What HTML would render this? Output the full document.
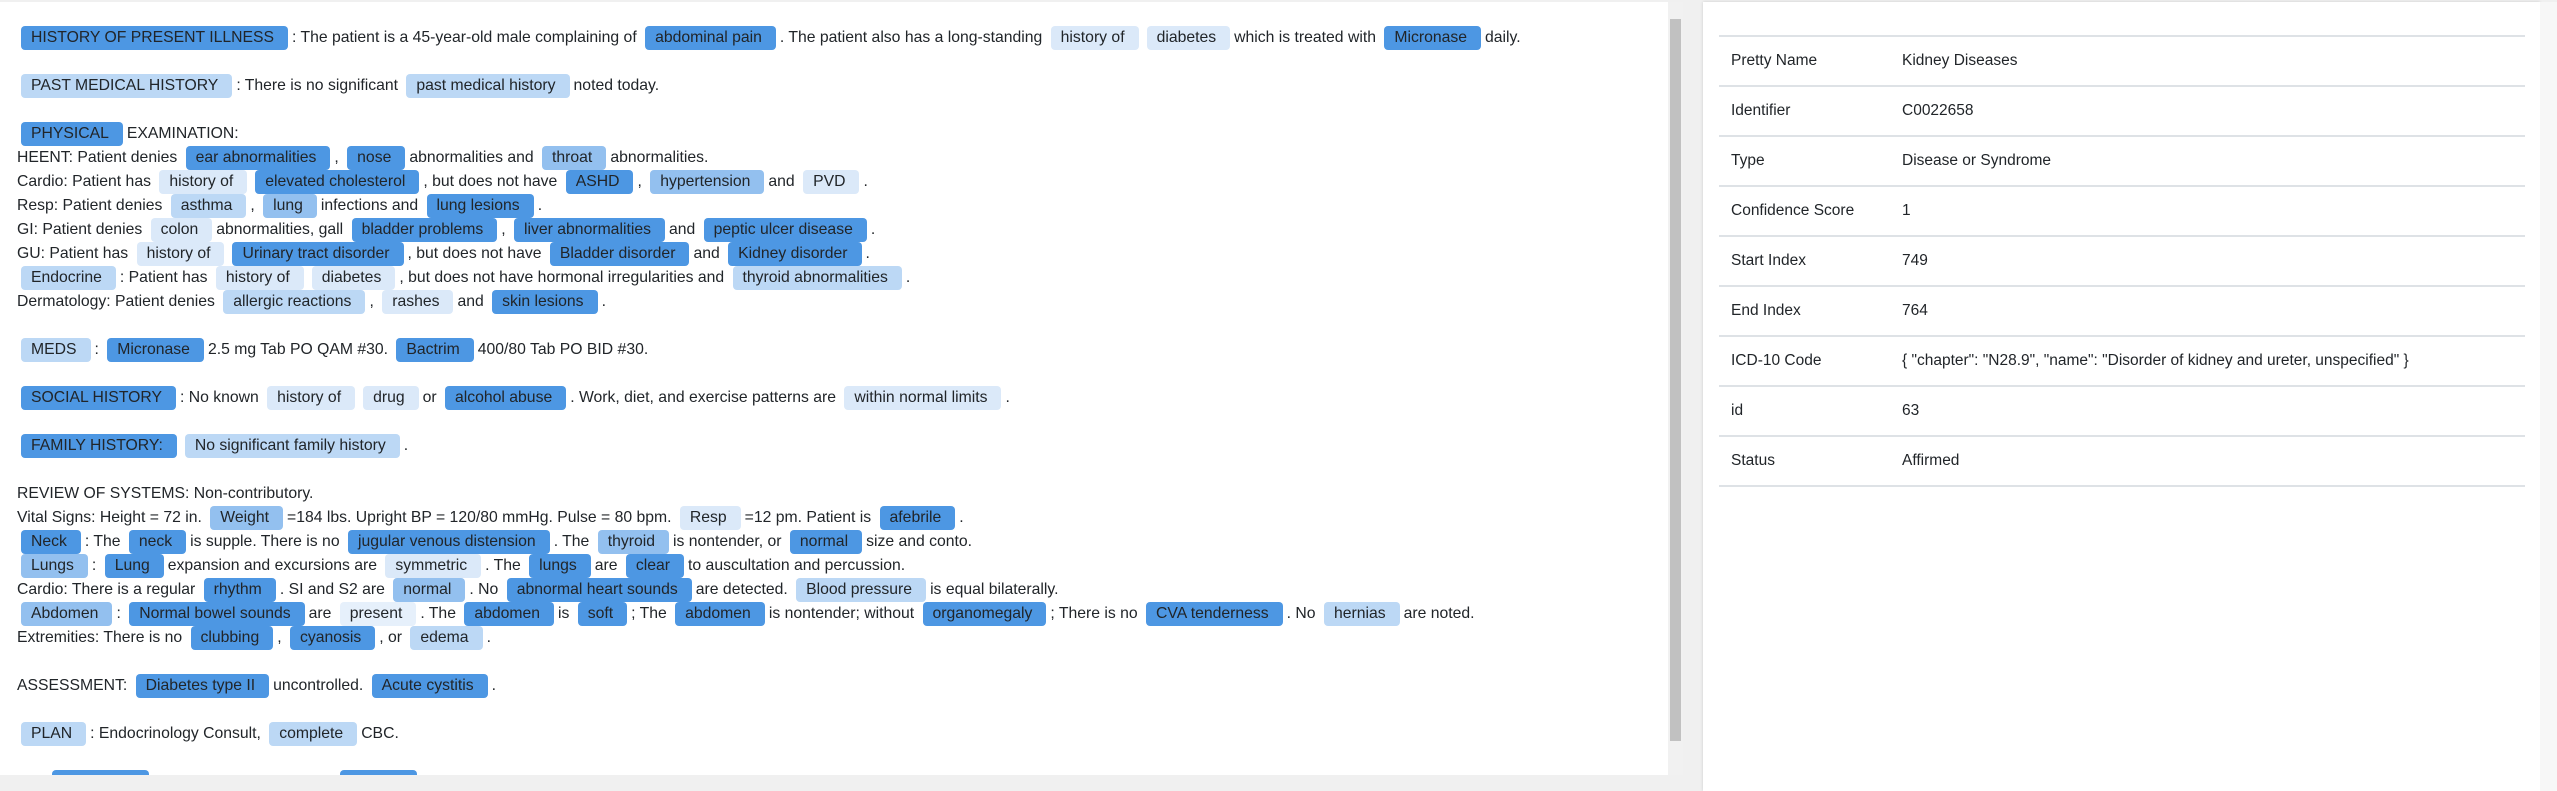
<!DOCTYPE html>
<html><head><meta charset="utf-8"><style>
body{margin:0;width:2557px;height:791px;overflow:hidden;background:#f0f0f0;font-family:"Liberation Sans",sans-serif;color:#212529;position:relative}
#left{position:absolute;left:0;top:2px;width:1668px;height:773px;background:#fff;overflow:hidden}
#vs{position:absolute;left:1668px;top:2px;width:15px;height:773px;background:#f1f1f1}
#vs .th{position:absolute;left:2px;top:17px;width:11px;height:722px;background:#c1c1c1}
#hs{position:absolute;left:0;top:775px;width:1683px;height:16px;background:#f0f0f0}
#txt{position:absolute;left:17px;top:24px;font-size:15.75px;white-space:nowrap}
.ln{height:24px;line-height:24px}
.t{display:inline-block;height:24px;line-height:24px;padding:0 14px 0 10px;border-radius:4px;margin:0 4px}
.d{background:#4d97e3}.m{background:#93c0ef}.l{background:#bcd8f5}.x{background:#dbe9f9}
#right{position:absolute;left:1703px;top:2px;width:837px;height:789px;background:#fff;box-shadow:0 0 3px rgba(0,0,0,.15)}
#rs{position:absolute;left:2540px;top:2px;width:17px;height:789px;background:#f7f7f7}
table{position:absolute;left:16px;top:33px;width:806px;border-collapse:collapse;font-size:15.5px}
td{height:48px;border-top:2px solid #dee2e6;padding:0 12px;vertical-align:middle}
td:first-child{width:147px}
tr:last-child td{border-bottom:2px solid #dee2e6}
</style></head><body>
<div id="left"><div id="txt">
<div class="ln"><span class="t d" style="margin-left:4px">HISTORY OF PRESENT ILLNESS</span>: The patient is a 45-year-old male complaining of <span class="t d">abdominal pain</span>. The patient also has a long-standing <span class="t x">history of</span><span class="t x">diabetes</span>which is treated with <span class="t d">Micronase</span>daily.</div>
<div class="ln"></div>
<div class="ln"><span class="t l">PAST MEDICAL HISTORY</span>: There is no significant <span class="t l">past medical history</span>noted today.</div>
<div class="ln"></div>
<div class="ln"><span class="t d">PHYSICAL</span>EXAMINATION:</div>
<div class="ln">HEENT: Patient denies <span class="t d">ear abnormalities</span>, <span class="t d">nose</span>abnormalities and <span class="t m">throat</span>abnormalities.</div>
<div class="ln">Cardio: Patient has <span class="t x">history of</span><span class="t d">elevated cholesterol</span>, but does not have <span class="t d">ASHD</span>, <span class="t m">hypertension</span>and <span class="t x">PVD</span>.</div>
<div class="ln">Resp: Patient denies <span class="t l">asthma</span>, <span class="t m">lung</span>infections and <span class="t d">lung lesions</span>.</div>
<div class="ln">GI: Patient denies <span class="t x">colon</span>abnormalities, gall <span class="t d">bladder problems</span>, <span class="t d">liver abnormalities</span>and <span class="t d">peptic ulcer disease</span>.</div>
<div class="ln">GU: Patient has <span class="t x">history of</span><span class="t d">Urinary tract disorder</span>, but does not have <span class="t d">Bladder disorder</span>and <span class="t d">Kidney disorder</span>.</div>
<div class="ln"><span class="t l">Endocrine</span>: Patient has <span class="t x">history of</span><span class="t x">diabetes</span>, but does not have hormonal irregularities and <span class="t l">thyroid abnormalities</span>.</div>
<div class="ln">Dermatology: Patient denies <span class="t l">allergic reactions</span>, <span class="t x">rashes</span>and <span class="t d">skin lesions</span>.</div>
<div class="ln"></div>
<div class="ln"><span class="t l">MEDS</span>: <span class="t d">Micronase</span>2.5 mg Tab PO QAM #30. <span class="t d">Bactrim</span>400/80 Tab PO BID #30.</div>
<div class="ln"></div>
<div class="ln"><span class="t d">SOCIAL HISTORY</span>: No known <span class="t x">history of</span><span class="t x">drug</span>or <span class="t d">alcohol abuse</span>. Work, diet, and exercise patterns are <span class="t x">within normal limits</span>.</div>
<div class="ln"></div>
<div class="ln"><span class="t d">FAMILY HISTORY:</span><span class="t l">No significant family history</span>.</div>
<div class="ln"></div>
<div class="ln">REVIEW OF SYSTEMS: Non-contributory.</div>
<div class="ln">Vital Signs: Height = 72 in. <span class="t m">Weight</span>=184 lbs. Upright BP = 120/80 mmHg. Pulse = 80 bpm. <span class="t x">Resp</span>=12 pm. Patient is <span class="t d">afebrile</span>.</div>
<div class="ln"><span class="t d">Neck</span>: The <span class="t d">neck</span>is supple. There is no <span class="t d">jugular venous distension</span>. The <span class="t m">thyroid</span>is nontender, or <span class="t d">normal</span>size and conto.</div>
<div class="ln"><span class="t m">Lungs</span>: <span class="t d">Lung</span>expansion and excursions are <span class="t x">symmetric</span>. The <span class="t d">lungs</span>are <span class="t d">clear</span>to auscultation and percussion.</div>
<div class="ln">Cardio: There is a regular <span class="t d">rhythm</span>. SI and S2 are <span class="t m">normal</span>. No <span class="t d">abnormal heart sounds</span>are detected. <span class="t l">Blood pressure</span>is equal bilaterally.</div>
<div class="ln"><span class="t m">Abdomen</span>: <span class="t d">Normal bowel sounds</span>are <span class="t x" style="background:#e6f0fb">present</span>. The <span class="t d">abdomen</span>is <span class="t d">soft</span>; The <span class="t d">abdomen</span>is nontender; without <span class="t d">organomegaly</span>; There is no <span class="t d">CVA tenderness</span>. No <span class="t l">hernias</span>are noted.</div>
<div class="ln">Extremities: There is no <span class="t d">clubbing</span>, <span class="t d">cyanosis</span>, or <span class="t l">edema</span>.</div>
<div class="ln"></div>
<div class="ln">ASSESSMENT: <span class="t d">Diabetes type II</span>uncontrolled. <span class="t d">Acute cystitis</span>.</div>
<div class="ln"></div>
<div class="ln"><span class="t l">PLAN</span>: Endocrinology Consult, <span class="t l">complete</span>CBC.</div>
<div class="ln"></div>
<div class="ln" style="position:relative"><span class="t d" style="position:absolute;left:31px;width:97px;padding:0"></span><span class="t d" style="position:absolute;left:319px;width:77px;padding:0"></span></div>
</div></div>
<div id="vs"><div class="th"></div></div>
<div id="hs"></div>
<div id="right"><table>
<tr><td>Pretty Name</td><td>Kidney Diseases</td></tr>
<tr><td>Identifier</td><td>C0022658</td></tr>
<tr><td>Type</td><td>Disease or Syndrome</td></tr>
<tr><td>Confidence Score</td><td>1</td></tr>
<tr><td>Start Index</td><td>749</td></tr>
<tr><td>End Index</td><td>764</td></tr>
<tr><td>ICD-10 Code</td><td>{ "chapter": "N28.9", "name": "Disorder of kidney and ureter, unspecified" }</td></tr>
<tr><td>id</td><td>63</td></tr>
<tr><td>Status</td><td>Affirmed</td></tr>
</table></div>
<div id="rs"></div>
</body></html>
